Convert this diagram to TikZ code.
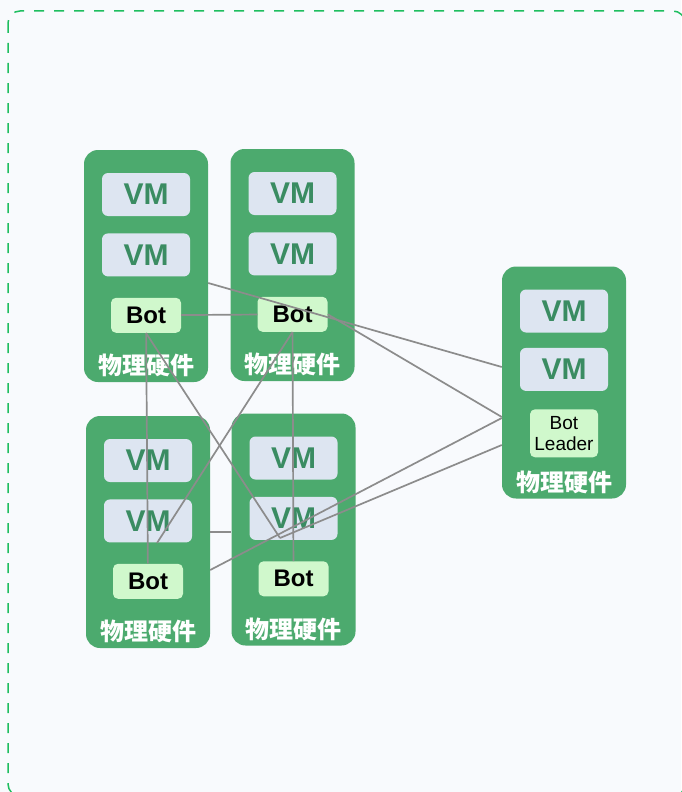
\documentclass[tikz,border=0pt]{standalone}
\usepackage{fontspec}
\setmainfont{Liberation Sans}
\newfontfamily\cjk{Noto Sans CJK SC}
\usetikzlibrary{positioning}

\definecolor{hwgreen}{RGB}{76,170,110}
\definecolor{vmfill}{RGB}{221,229,241}
\definecolor{vmtext}{RGB}{58,140,98}
\definecolor{botfill}{RGB}{208,248,204}
\definecolor{linkgray}{RGB}{140,140,140}
\definecolor{framegreen}{RGB}{30,190,95}
\definecolor{bgpaper}{RGB}{248,250,253}

\begin{document}
\begin{tikzpicture}[
    x=1pt, y=-1pt,
    hwbox/.style={fill=hwgreen, rounded corners=14pt, minimum width=124pt, minimum height=232pt, inner sep=0pt},
    vmbox/.style={fill=vmfill, rounded corners=6pt, minimum width=88pt, minimum height=43pt, inner sep=0pt,
                  text=vmtext, font=\fontsize{30}{32}\selectfont\bfseries},
    botbox/.style={fill=botfill, rounded corners=5pt, minimum width=70pt, minimum height=35pt, inner sep=0pt,
                   font=\fontsize{24}{26}\selectfont\bfseries},
    hwlabel/.style={text=white, inner sep=0pt, font=\cjk\fontsize{24}{26}\selectfont\bfseries},
    link/.style={draw=linkgray, line width=1.7pt},
]
    % Page and dashed frame
    \useasboundingbox (0,0) rectangle (681,792);
    \fill[bgpaper] (0,0) rectangle (681,792);
    \draw[framegreen, line width=1.5pt, dash pattern=on 10pt off 10pt, rounded corners=12pt] (8,11) rectangle (685,796);

    % Top left machine
    \node[hwbox] (hwtl) at (146,266) {};
    \node[vmbox, below=23pt of hwtl.north] (vmatl) {VM};
    \node[vmbox, below=17pt of vmatl] (vmbtl) {VM};
    \node[botbox, below=21pt of vmbtl] (bottl) {Bot};
    \node[hwlabel, above=5pt of hwtl.south] (lbltl) {物理硬件};

    % Top right machine
    \node[hwbox] (hwtr) at (292.5,265) {};
    \node[vmbox, below=23pt of hwtr.north] (vmatr) {VM};
    \node[vmbox, below=17pt of vmatr] (vmbtr) {VM};
    \node[botbox, below=21pt of vmbtr] (bottr) {Bot};
    \node[hwlabel, above=5pt of hwtr.south] (lbltr) {物理硬件};

    % Bottom left machine
    \node[hwbox] (hwbl) at (148,532) {};
    \node[vmbox, below=23pt of hwbl.north] (vmabl) {VM};
    \node[vmbox, below=17pt of vmabl] (vmbbl) {VM};
    \node[botbox, below=21pt of vmbbl] (botbl) {Bot};
    \node[hwlabel, above=5pt of hwbl.south] (lblbl) {物理硬件};

    % Bottom right machine
    \node[hwbox] (hwbr) at (293.5,529.5) {};
    \node[vmbox, below=23pt of hwbr.north] (vmabr) {VM};
    \node[vmbox, below=17pt of vmabr] (vmbbr) {VM};
    \node[botbox, below=21pt of vmbbr] (botbr) {Bot};
    \node[hwlabel, above=5pt of hwbr.south] (lblbr) {物理硬件};

    % Leader machine
    \node[hwbox] (hwld) at (564,382.5) {};
    \node[vmbox, below=23pt of hwld.north] (vmald) {VM};
    \node[vmbox, below=15pt of vmald] (vmbld) {VM};
    \node[botbox, below=18pt of vmbld, minimum width=68pt, minimum height=48pt, align=center,
          font=\fontsize{19}{21}\selectfont] (botld) {Bot\\Leader};
    \node[hwlabel, above=5pt of hwld.south] (lblld) {物理硬件};

    % Where the crossing links stop
    \coordinate (hubbl) at (157,543);
    \coordinate (hubbr) at (280,538);

    % Links between bots
    \draw[link] (bottl) -- (bottr);
    \draw[link] (bottl) -- (botbl);
    \draw[link] (bottr) -- (botbr);
    \draw[link] (bottl.south) -- (hubbr);
    \draw[link] (bottr.south) -- (hubbl);
    \draw[link] (hwbl.east |- 0,532) -- (hwbr.west |- 0,532);

    % Links to the leader
    \draw[link] (hwtl.east |- 0,283) -- (hwld.west |- 0,367);
    \draw[link] (bottr.east) -- (hwld.west |- 0,417);
    \draw[link] (hwbl.east |- 0,570) -- (hwld.west |- 0,418);
    \draw[link] (hubbr) -- (hwld.west |- 0,445);

\end{tikzpicture}
\end{document}
